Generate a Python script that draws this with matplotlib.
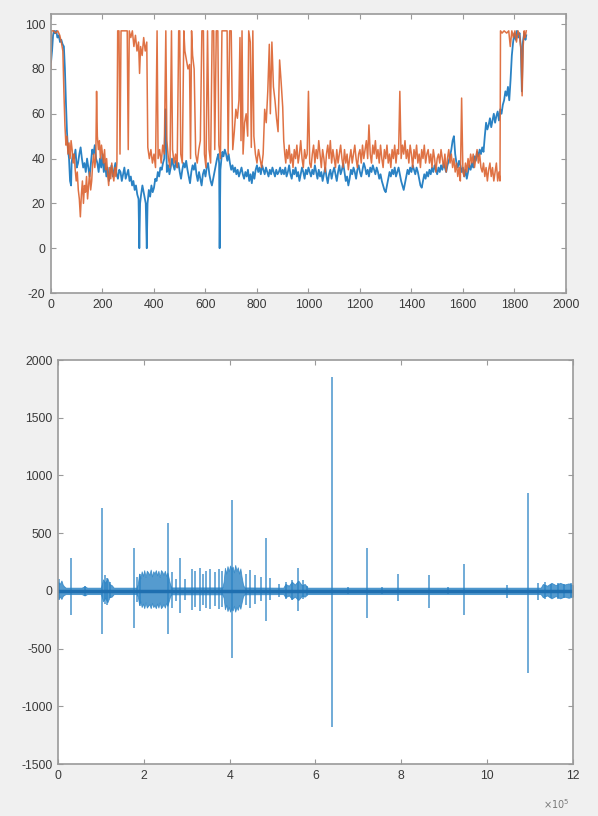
import matplotlib
matplotlib.use("Agg")
import matplotlib.pyplot as plt

plt.rcParams['font.family'] = ['Liberation Sans', 'DejaVu Sans']
plt.rcParams['axes.unicode_minus'] = False

# ---- top panel: two tracked series (sample index vs value) ----
blue_x = ([0, 4, 8, 12, 16, 20, 25, 30, 35, 40, 45, 50, 54, 58, 62, 66, 70, 74, 78]
          + list(range(80, 345, 5))
          + [343, 346, 350, 355, 360, 365, 368, 372, 375]
          + list(range(380, 655, 5))
          + [653, 655, 658, 662, 666]
          + list(range(670, 1830, 5))
          + [1829, 1833, 1838, 1843, 1846])
blue_y = ([83, 88, 95, 97, 96, 97, 94, 95, 92, 93, 91, 90, 80, 65, 52, 44, 40, 30, 28]
          + [38, 42, 40, 44, 36, 38, 42, 45, 40, 36,
             38, 34, 40, 36, 32, 38, 44, 42, 46, 40,
             38, 34, 40, 36, 42, 34, 38, 32, 36, 30,
             34, 37, 32, 35, 38, 33, 31, 35, 34, 30,
             33, 36, 31, 33, 35, 30, 32, 28, 30, 26,
             28, 24, 22]
          + [0, 20, 24, 28, 25, 22, 20, 0, 20]
          + [26, 23, 28, 25, 27, 31, 30, 34, 32, 36,
             35, 38, 40, 62, 34, 37, 33, 36, 40, 37,
             35, 39, 36, 38, 34, 31, 35, 38, 36, 39,
             35, 32, 29, 34, 37, 35, 38, 33, 30, 34,
             31, 28, 33, 35, 32, 36, 38, 33, 30, 28,
             31, 34, 37, 40, 42]
          + [38, 0, 35, 40, 43]
          + [41, 44, 42, 39, 42, 38, 35, 37, 34, 36,
             33, 35, 32, 34, 36, 33, 31, 34, 32, 35,
             30, 33, 29, 34, 31, 35, 37, 34, 36, 33,
             37, 35, 33, 36, 34, 32, 35, 33, 36, 34,
             32, 35, 33, 34, 36, 33, 35, 33, 36, 32,
             34, 37, 33, 31, 35, 33, 36, 32, 34, 30,
             33, 36, 34, 31, 35, 33, 36, 34, 32, 35,
             33, 37, 34, 31, 35, 32, 34, 30, 33, 36,
             32, 29, 33, 35, 31, 34, 36, 33, 30, 34,
             37, 33, 35, 38, 34, 30, 32, 28, 31, 35,
             33, 36, 34, 31, 35, 37, 34, 32, 35, 38,
             36, 33, 35, 32, 36, 34, 37, 35, 33, 36,
             34, 31, 33, 30, 28, 26, 25, 28, 31, 34,
             32, 35, 33, 36, 32, 34, 36, 33, 30, 28,
             26, 29, 32, 35, 33, 36, 34, 37, 35, 33,
             36, 34, 31, 28, 27, 30, 33, 31, 34, 32,
             35, 33, 36, 34, 37, 35, 33, 36, 34, 37,
             35, 38, 36, 34, 37, 39, 41, 44, 48, 50,
             42, 38, 36, 39, 37, 34, 36, 32, 35, 31,
             34, 37, 35, 38, 36, 41, 39, 43, 41, 44,
             42, 45, 43, 50, 56, 53, 55, 58, 54, 57,
             60, 56, 59, 61, 57, 62, 60, 64, 66, 70,
             68, 72, 66, 75, 86, 92, 96, 93, 97, 94,
             96, 90]
          + [70, 92, 96, 93, 95])

orange_x = ([0, 2, 10, 18, 26, 34, 40, 46, 50, 54, 58, 62, 66, 70, 74, 78, 82, 86, 90, 94,
             98, 102, 106, 110, 114, 118, 122, 126, 130, 134, 138, 142, 146, 150, 154, 158, 162, 166, 170, 174,
             177, 180, 184, 188, 192, 196, 200, 204, 208, 212, 216, 220, 224, 228, 232, 236, 240, 244, 248, 252,
             256, 259, 264, 268, 272, 280, 288, 296, 300, 304, 310, 316, 322, 328, 334, 340, 344, 348, 354, 360,
             366, 372, 376, 382, 388, 394, 400, 406, 412, 416, 422, 428, 434, 440, 446, 450, 456, 462, 468, 472,
             478, 484, 490, 496, 500, 504, 510, 516, 520, 526, 532, 538, 542, 546, 550, 556, 562, 568, 574, 580,
             586, 592, 596, 602, 608, 614, 620, 626, 632, 636, 642, 648, 652, 658, 664, 670, 678, 684, 688, 694,
             700, 706, 712, 718, 724, 730, 734, 738, 742, 746, 752, 758, 764, 768, 774, 778, 784, 788, 794, 800,
             806, 812, 818, 824, 830, 836, 842, 848, 852, 858, 864, 870, 876, 882, 888, 894, 900, 904, 908, 912]
            + list(range(915, 1745, 5))
            + [1744, 1746, 1752, 1760, 1770, 1778, 1784, 1790, 1796, 1802,
               1808, 1814, 1820, 1826, 1830, 1834, 1838, 1842, 1846])
orange_y = ([80, 97, 97, 96, 97, 95, 92, 88, 70, 55, 46, 50, 42, 47, 40, 48, 44, 38, 42, 35,
             30, 34, 26, 22, 14, 24, 30, 20, 28, 25, 32, 22, 28, 34, 26, 30, 38, 42, 36, 40,
             70, 50, 44, 48, 40, 46, 42, 38, 44, 35, 40, 33, 28, 36, 31, 38, 33, 30, 36, 32,
             38, 97, 97, 42, 97, 97, 97, 97, 44, 97, 94, 97, 90, 95, 88, 92, 78, 90, 86, 94,
             88, 92, 45, 40, 44, 38, 42, 36, 97, 40, 44, 38, 46, 42, 97, 48, 40, 36, 97, 44,
             38, 42, 36, 97, 97, 42, 38, 97, 88, 84, 80, 82, 40, 97, 86, 80, 42, 38, 44, 48,
             97, 97, 42, 36, 97, 44, 38, 97, 97, 44, 97, 97, 46, 40, 97, 97, 97, 97, 42, 97,
             97, 44, 52, 62, 58, 66, 94, 48, 97, 42, 56, 60, 50, 97, 92, 45, 97, 50, 42, 38,
             44, 40, 36, 42, 62, 56, 70, 91, 60, 92, 72, 66, 58, 52, 84, 74, 63, 48, 42, 38]
            + [44, 40, 46, 38, 42, 36, 44, 40, 46, 38,
               42, 48, 40, 36, 44, 40, 42, 70, 38, 36,
               42, 46, 38, 44, 40, 48, 42, 36, 44, 40,
               34, 42, 46, 40, 48, 38, 44, 40, 36, 44,
               38, 42, 46, 40, 36, 44, 38, 42, 35, 40,
               44, 38, 42, 46, 40, 36, 42, 44, 38, 46,
               40, 44, 48, 40, 55, 42, 38, 46, 42, 48,
               40, 44, 38, 46, 40, 36, 44, 40, 46, 38,
               42, 36, 44, 40, 46, 38, 44, 42, 70, 40,
               46, 42, 48, 40, 44, 38, 46, 42, 36, 44,
               40, 46, 38, 42, 36, 44, 40, 46, 38, 42,
               44, 38, 42, 36, 44, 40, 34, 40, 42, 38,
               44, 40, 36, 42, 34, 40, 44, 38, 42, 36,
               40, 34, 38, 32, 36, 30, 67, 34, 32, 38,
               34, 40, 36, 42, 38, 42, 36, 40, 44, 38,
               42, 36, 34, 38, 32, 36, 30, 35, 38, 32,
               36, 30, 34, 38, 30, 34]
            + [30, 97, 96, 97, 96, 97, 90, 97, 94, 97,
               92, 97, 95, 88, 68, 90, 97, 94, 97])

# ---- bottom panel: raw signal (x in units of 1e5 samples) ----
spike_x = [0.02, 0.30, 0.62, 1.02, 1.10, 1.15, 1.21, 1.77, 1.85, 1.92,
           2.57, 2.65, 2.75, 2.84, 2.95, 3.12, 3.20, 3.30, 3.38, 3.45,
           3.55, 3.65, 3.75, 3.82, 4.05, 4.38, 4.48, 4.60, 4.72, 4.85,
           4.95, 5.15, 5.32, 5.45, 5.60, 5.70, 5.80, 6.38, 6.75, 7.20,
           7.55, 7.92, 8.65, 9.10, 9.46, 10.46, 10.95, 11.19, 11.35, 11.50,
           11.65, 11.80, 11.95]
spike_hi = [100, 285, 45, 720, 140, 110, 80, 370, 120, 150,
            590, 160, 100, 285, 100, 190, 170, 200, 150, 175,
            190, 160, 190, 170, 790, 150, 180, 140, 120, 460,
            110, 60, 80, 90, 200, 90, 40, 1850, 30, 370,
            30, 145, 140, 30, 230, 50, 850, 70, 80, 60,
            70, 60, 65]
spike_lo = [-80, -210, -45, -370, -110, -120, -60, -320, -100, -130,
            -370, -150, -90, -195, -80, -165, -140, -170, -120, -150,
            -160, -130, -160, -140, -580, -120, -150, -110, -90, -260,
            -80, -50, -70, -80, -170, -70, -40, -1180, -30, -235,
            -25, -90, -150, -25, -205, -60, -715, -80, -70, -60,
            -70, -60, -55]

burst_x = [0.00, 0.04, 0.08, 0.11, 0.14, 0.18, 0.55, 0.62, 0.68, 1.00,
           1.05, 1.10, 1.15, 1.20, 1.25, 1.30, 1.83,
           1.86, 1.89, 1.92, 1.95, 1.98, 2.01, 2.04, 2.07, 2.10, 2.13,
           2.16, 2.19, 2.22, 2.25, 2.28, 2.31, 2.34, 2.37, 2.40, 2.43,
           2.46, 2.49, 2.52, 2.55, 2.58, 2.61, 2.64, 3.83,
           3.86, 3.89, 3.92, 3.95, 3.98, 4.01, 4.04, 4.07, 4.10, 4.13,
           4.16, 4.19, 4.22, 4.25, 4.28, 4.31, 4.34, 5.25,
           5.30, 5.38, 5.45, 5.52, 5.60, 5.68, 5.75, 5.82, 11.25,
           11.30, 11.40, 11.50, 11.60, 11.70, 11.80, 11.90, 12.00]
burst_hi = [80, 60, 90, 55, 40, 28, 28, 40, 28, 28,
            100, 70, 110, 60, 50, 28, 28,
            60, 150, 110, 170, 130, 180, 120, 175, 160, 140,
            185, 125, 170, 150, 180, 135, 175, 120, 180, 165,
            140, 175, 130, 160, 110, 60, 30, 30,
            80, 200, 150, 215, 170, 220, 190, 210, 160, 225,
            175, 205, 150, 195, 120, 60, 30, 28,
            60, 45, 80, 55, 90, 50, 60, 28, 28,
            60, 45, 70, 50, 70, 55, 65, 50]
burst_lo = [-70, -50, -70, -45, -35, -28, -28, -40, -28, -28,
            -90, -60, -100, -55, -50, -28, -28,
            -50, -120, -90, -140, -110, -150, -100, -145, -130, -115,
            -150, -105, -140, -125, -150, -110, -145, -100, -150, -135,
            -115, -145, -105, -130, -90, -50, -30, -30,
            -60, -160, -120, -175, -140, -180, -150, -170, -130, -180,
            -140, -165, -120, -155, -100, -50, -30, -28,
            -55, -40, -70, -50, -80, -45, -50, -28, -28,
            -55, -40, -65, -45, -65, -50, -60, -50]

BLUE = '#2a82c4'
ORANGE = '#dc6330'
SPINE = '#9a9a9a'
TXT = '#3a3a3a'

fig = plt.figure(figsize=(5.98, 8.16), dpi=100, facecolor='#f0f0f0')
ax1 = fig.add_axes([0.0853, 0.6409, 0.861, 0.3419])
ax2 = fig.add_axes([0.097, 0.0637, 0.861, 0.4951])


def style(ax):
    ax.set_facecolor('white')
    for s in ax.spines.values():
        s.set_color(SPINE)
        s.set_linewidth(1.2)
    ax.tick_params(direction='in', top=True, right=True, length=3.5,
                   width=0.8, color=SPINE, labelsize=8.8, labelcolor=TXT, pad=4)


ax1.plot(blue_x, blue_y, color=BLUE, lw=1.3)
ax1.plot(orange_x, orange_y, color=ORANGE, lw=1.1, alpha=0.9)
ax1.set_xlim(0, 2000)
ax1.set_ylim(-20, 104.5)
ax1.set_xticks(range(0, 2001, 200))
ax1.set_yticks(range(-20, 101, 20))
style(ax1)

ax2.fill_between(burst_x, burst_lo, burst_hi, color=BLUE, lw=0.6, alpha=0.8)
ax2.vlines(spike_x, spike_lo, spike_hi, color=BLUE, lw=1.1, alpha=0.85)
ax2.plot([0, 12], [0, 0], color='#1f6fb0', lw=2.5)
ax2.set_xlim(0, 12)
ax2.set_ylim(-1500, 2000)
ax2.set_xticks(range(0, 13, 2))
ax2.set_yticks(range(-1500, 2001, 500))
style(ax2)

fig.text(556 / 598, 1 - 804 / 816, r'$\times10^5$', fontsize=7, color='#777777',
         ha='center', va='center')

fig.savefig('out.png', dpi=100, facecolor=fig.get_facecolor())
